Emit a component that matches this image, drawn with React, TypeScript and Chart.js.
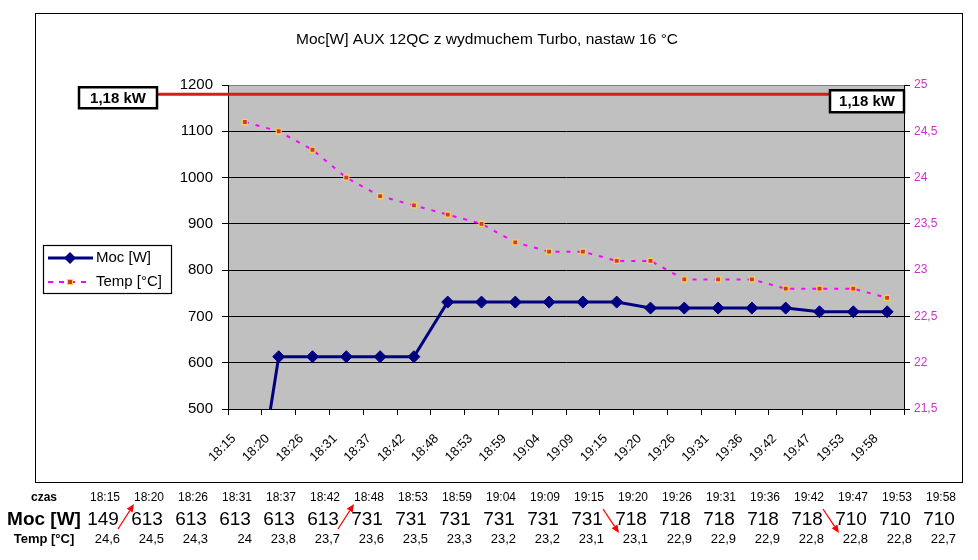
import React, { useEffect, useRef } from 'react';
import { Chart, registerables } from 'chart.js';

Chart.register(...registerables);

const TITLE = 'Moc[W] AUX 12QC z wydmuchem Turbo, nastaw 16 °C';
const TIMES = ['18:15', '18:20', '18:26', '18:31', '18:37', '18:42', '18:48', '18:53', '18:59', '19:04', '19:09', '19:15', '19:20', '19:26', '19:31', '19:36', '19:42', '19:47', '19:53', '19:58'];
const MOC_W = [149, 613, 613, 613, 613, 613, 731, 731, 731, 731, 731, 731, 718, 718, 718, 718, 718, 710, 710, 710];
const TEMP_C = [24.6, 24.5, 24.3, 24, 23.8, 23.7, 23.6, 23.5, 23.3, 23.2, 23.2, 23.1, 23.1, 22.9, 22.9, 22.9, 22.8, 22.8, 22.8, 22.7];
const LIMIT_W = 1180;
const LIMIT_LABEL = '1,18 kW';
const MOC_LABEL = 'Moc [W]';
const TEMP_LABEL = 'Temp [°C]';
const ROW_LABELS = ['czas', 'Moc [W]', 'Temp [°C]'];
const W_MIN = 500;
const W_MAX = 1200;
const W_STEP = 100;
const T_MIN = 21.5;
const T_MAX = 25;
const T_STEP = 0.5;

const FONT = 'Arial, "Liberation Sans", sans-serif';
const NAVY = '#000080';
const MAGENTA = '#ff00ff';
const PINK = '#cc33cc';
const RED = '#e01818';
const PLOT_BG = '#c0c0c0';
const MARK_FILL = '#c83c3c';
const MARK_EDGE = '#ffd050';

const fmt = (v: number) => String(v).replace('.', ',');

function diamond(ctx: CanvasRenderingContext2D, x: number, y: number, r: number) {
  ctx.beginPath();
  ctx.moveTo(x - r, y);
  ctx.lineTo(x, y - r);
  ctx.lineTo(x + r, y);
  ctx.lineTo(x, y + r);
  ctx.closePath();
  ctx.fill();
}

const bgPlugin = {
  id: 'plotBg',
  beforeDraw(chart: any) {
    const { ctx, chartArea } = chart;
    ctx.save();
    ctx.fillStyle = PLOT_BG;
    ctx.fillRect(chartArea.left, chartArea.top, chartArea.right - chartArea.left, chartArea.bottom - chartArea.top);
    ctx.restore();
  },
};

function labelBox(ctx: CanvasRenderingContext2D, x: number, y: number, w: number, h: number) {
  ctx.fillStyle = '#fff';
  ctx.fillRect(x, y, w, h);
  ctx.strokeStyle = '#000';
  ctx.lineWidth = 2.5;
  ctx.strokeRect(x, y, w, h);
  ctx.fillStyle = '#000';
  ctx.font = `bold 15px ${FONT}`;
  ctx.textAlign = 'center';
  ctx.textBaseline = 'middle';
  ctx.fillText(LIMIT_LABEL, x + w / 2, y + h / 2 + 1);
}

const overlayPlugin = {
  id: 'overlay',
  afterDraw(chart: any) {
    const { ctx, chartArea } = chart;
    ctx.save();
    // title
    ctx.fillStyle = '#000';
    ctx.font = `15.5px ${FONT}`;
    ctx.textAlign = 'center';
    ctx.textBaseline = 'middle';
    ctx.fillText(TITLE, 487, 40);

    // limit line
    const ly = chart.scales.y.getPixelForValue(LIMIT_W);
    const lx = 79, lw = 78;
    const rw = 74, rx = chartArea.right - rw;
    ctx.strokeStyle = RED;
    ctx.lineWidth = 3;
    ctx.beginPath();
    ctx.moveTo(lx + lw, ly);
    ctx.lineTo(rx, ly);
    ctx.stroke();
    labelBox(ctx, lx, ly - 7, lw, 21);
    labelBox(ctx, rx, ly - 4, rw, 22);

    // legend
    ctx.fillStyle = '#fff';
    ctx.fillRect(43.5, 245.5, 128, 48);
    ctx.strokeStyle = '#000';
    ctx.lineWidth = 1.2;
    ctx.strokeRect(43.5, 245.5, 128, 48);

    ctx.strokeStyle = NAVY;
    ctx.lineWidth = 3;
    ctx.beginPath();
    ctx.moveTo(48, 258);
    ctx.lineTo(93, 258);
    ctx.stroke();
    ctx.fillStyle = NAVY;
    diamond(ctx, 70, 258, 6);

    ctx.strokeStyle = MAGENTA;
    ctx.lineWidth = 2;
    ctx.setLineDash([5, 6]);
    ctx.beginPath();
    ctx.moveTo(48, 282);
    ctx.lineTo(92, 282);
    ctx.stroke();
    ctx.setLineDash([]);
    ctx.fillStyle = MARK_FILL;
    ctx.fillRect(67.5, 279.5, 5, 5);
    ctx.strokeStyle = MARK_EDGE;
    ctx.lineWidth = 1;
    ctx.strokeRect(67.5, 279.5, 5, 5);

    ctx.fillStyle = '#000';
    ctx.font = `15px ${FONT}`;
    ctx.textAlign = 'left';
    ctx.textBaseline = 'middle';
    ctx.fillText(MOC_LABEL, 96, 258);
    ctx.fillText(TEMP_LABEL, 96, 282);
    ctx.restore();
  },
};

const COL0 = 105;
const COL_STEP = 44;

function arrowShape(x1: number, y1: number, x2: number, y2: number) {
  const ang = Math.atan2(y2 - y1, x2 - x1);
  const len = 8, half = 3.5;
  const bx = x2 - len * Math.cos(ang);
  const by = y2 - len * Math.sin(ang);
  const px = -Math.sin(ang) * half;
  const py = Math.cos(ang) * half;
  return {
    line: { x1, y1, x2: bx, y2: by },
    head: `${x2},${y2} ${bx + px},${by + py} ${bx - px},${by - py}`,
  };
}

export default function App() {
  const ref = useRef<HTMLCanvasElement>(null);

  useEffect(() => {
    if (!ref.current) return;
    Chart.defaults.font.family = FONT;
    const chart = new Chart(ref.current, {
      type: 'line',
      data: {
        labels: TIMES,
        datasets: [
          {
            label: MOC_LABEL,
            data: MOC_W,
            yAxisID: 'y',
            borderColor: NAVY,
            backgroundColor: NAVY,
            borderWidth: 3,
            pointStyle: 'rectRot',
            pointRadius: 6,
            pointBackgroundColor: NAVY,
            pointBorderColor: NAVY,
            pointBorderWidth: 1,
            tension: 0,
          },
          {
            label: TEMP_LABEL,
            data: TEMP_C,
            yAxisID: 'y1',
            borderColor: MAGENTA,
            backgroundColor: MAGENTA,
            borderWidth: 2,
            borderDash: [4, 7],
            pointStyle: 'rect',
            pointRadius: 3.6,
            pointBackgroundColor: MARK_FILL,
            pointBorderColor: MARK_EDGE,
            pointBorderWidth: 1.2,
            tension: 0,
          },
        ],
      },
      options: {
        responsive: false,
        animation: false,
        events: [],
        layout: { padding: { left: 168, right: 24, top: 85, bottom: 91 } },
        plugins: {
          legend: { display: false },
          title: { display: false },
          tooltip: { enabled: false },
        },
        scales: {
          x: {
            offset: true,
            grid: { offset: true, drawOnChartArea: false, color: '#000', tickColor: '#000', tickLength: 6 },
            border: { color: '#000', width: 1 },
            ticks: { minRotation: 45, maxRotation: 45, autoSkip: false, color: '#000', font: { size: 13 }, padding: 16, labelOffset: -11 },
            afterFit: (s: any) => { s.height = 60; },
          },
          y: {
            position: 'left',
            min: W_MIN,
            max: W_MAX,
            ticks: { stepSize: W_STEP, color: '#000', font: { size: 15 }, padding: 9, callback: (v: any) => String(v) },
            grid: {
              color: (c: any) => (c.tick && c.tick.value === W_MAX ? '#808080' : '#000'),
              tickColor: '#000',
              tickLength: 6,
              lineWidth: 1,
            },
            border: { color: '#000', width: 1 },
            afterFit: (s: any) => { s.width = 60; },
          },
          y1: {
            position: 'right',
            min: T_MIN,
            max: T_MAX,
            ticks: { stepSize: T_STEP, color: PINK, font: { size: 12 }, padding: 4, callback: (v: any) => fmt(Number(v)) },
            grid: { drawOnChartArea: false, color: '#000', tickColor: '#000', tickLength: 6 },
            border: { color: '#000', width: 1 },
            afterFit: (s: any) => { s.width = 50; },
          },
        },
      },
      plugins: [bgPlugin, overlayPlugin],
    } as any);
    return () => chart.destroy();
  }, []);

  const arrows: { up: boolean; cx: number }[] = [];
  for (let i = 1; i < MOC_W.length; i++) {
    if (MOC_W[i] !== MOC_W[i - 1]) {
      arrows.push({ up: MOC_W[i] > MOC_W[i - 1], cx: COL0 + (i - 0.5) * COL_STEP });
    }
  }

  const cell = (left: number, top: number, width: number, align: 'left' | 'center' | 'right', size: number, bold: boolean, text: string, key: string) => (
    <div
      key={key}
      style={{
        position: 'absolute',
        left,
        top,
        width,
        textAlign: align,
        fontSize: size,
        lineHeight: `${Math.round(size * 1.2)}px`,
        fontWeight: bold ? 'bold' : 'normal',
        whiteSpace: 'nowrap',
      }}
    >
      {text}
    </div>
  );

  return (
    <div style={{ position: 'fixed', left: 0, top: 0, width: 978, height: 560, background: '#fff', overflow: 'hidden', fontFamily: FONT, color: '#000' }}>
      <div style={{ position: 'absolute', left: 35, top: 13, width: 928, height: 470, border: '1px solid #000', boxSizing: 'border-box' }} />
      <canvas ref={ref} width={978} height={560} style={{ position: 'absolute', left: 0, top: 0, width: 978, height: 560 }} />
      {cell(4, 497 - 7, 80, 'center', 12, true, ROW_LABELS[0], 'l0')}
      {cell(4, 518 - 11, 80, 'center', 19, true, ROW_LABELS[1], 'l1')}
      {cell(4, 539 - 8, 80, 'center', 13, true, ROW_LABELS[2], 'l2')}
      {TIMES.map((t, i) => cell(COL0 + i * COL_STEP - 25, 497 - 7, 50, 'center', 12, false, t, `t${i}`))}
      {MOC_W.map((v, i) => cell(COL0 + i * COL_STEP - 2 - 30, 518 - 11, 60, 'center', 19, false, String(v), `m${i}`))}
      {TEMP_C.map((v, i) => cell(COL0 + i * COL_STEP + 15 - 50, 539 - 8, 50, 'right', 13, false, fmt(v), `p${i}`))}
      <svg width={978} height={560} style={{ position: 'absolute', left: 0, top: 0, pointerEvents: 'none' }}>
        {arrows.map((a, k) => {
          const s = a.up ? arrowShape(a.cx - 9, 529, a.cx + 7, 504) : arrowShape(a.cx - 8, 509, a.cx + 8, 533);
          return (
            <g key={k}>
              <line x1={s.line.x1} y1={s.line.y1} x2={s.line.x2} y2={s.line.y2} stroke="#ff0000" strokeWidth={1.3} />
              <polygon points={s.head} fill="#ff0000" />
            </g>
          );
        })}
      </svg>
    </div>
  );
}
